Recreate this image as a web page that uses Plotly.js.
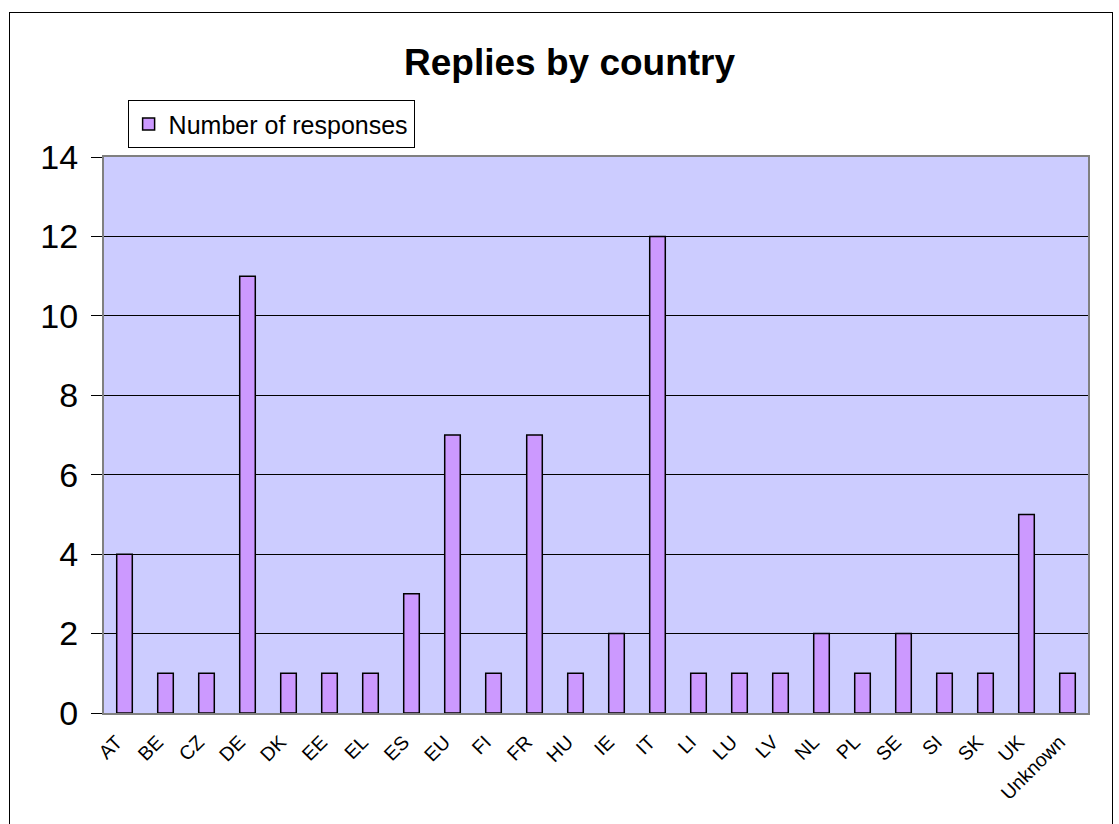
<!DOCTYPE html>
<html>
<head>
<meta charset="utf-8">
<script src="https://cdn.plot.ly/plotly-3.0.1.min.js"></script>
<style>
html,body{margin:0;padding:0;background:#fff;}
#wrap{position:relative;width:1119px;height:824px;}
#chart{width:1119px;height:824px;}
#frame{position:absolute;left:9px;top:12px;width:1104px;height:820px;border:1px solid #000;pointer-events:none;box-sizing:border-box;}
</style>
</head>
<body>
<div id="wrap">
<div id="chart"></div>
<div id="frame"></div>
</div>
<script>
const countries = ["AT","BE","CZ","DE","DK","EE","EL","ES","EU","FI","FR","HU","IE","IT","LI","LU","LV","NL","PL","SE","SI","SK","UK","Unknown"];
const responses = [4,1,1,11,1,1,1,3,7,1,7,1,2,12,1,1,1,2,1,2,1,1,5,1];
const yTicks = [0,2,4,6,8,10,12,14];

const trace = {
  type: "bar",
  x: countries,
  y: responses,
  name: "Number of responses",
  marker: {color: "#CC99FF", line: {color: "#000000", width: 1.5}},
  showlegend: true
};

const layout = {
  width: 1119, height: 824,
  margin: {l: 104, r: 31, t: 157, b: 111},
  paper_bgcolor: "#ffffff",
  plot_bgcolor: "#CCCCFF",
  font: {family: "Liberation Sans, Arial, sans-serif", color: "#000"},
  title: {text: "<b>Replies by country</b>", font: {size: 37, color: "#000"}, x: 0.509, xref: "container", y: 0.925, yanchor: "middle", yref: "container"},
  bargap: 0.62,
  showlegend: true,
  legend: {x: 0.024, y: 1.102, xanchor: "left", yanchor: "top", bordercolor: "#000", borderwidth: 1, bgcolor: "#fff", font: {size: 25}, itemwidth: 30},
  xaxis: {
    type: "category",
    tickangle: -45,
    tickfont: {size: 19.5},
    showgrid: false,
    showline: true, linecolor: "#808080", linewidth: 2, mirror: true,
    ticks: "", zeroline: false,
    ticklabelstandoff: 8,
    ticklabelshift: -8
  },
  yaxis: {
    range: [0, 14],
    tickvals: yTicks,
    tickfont: {size: 34},
    showgrid: true, gridcolor: "#000", gridwidth: 1,
    showline: true, linecolor: "#808080", linewidth: 2, mirror: true,
    ticks: "outside", ticklen: 11, tickcolor: "#000",
    ticklabelstandoff: 6,
    zeroline: false
  }
};

Plotly.newPlot("chart", [trace], layout, {displayModeBar: false, staticPlot: true});
</script>
</body>
</html>
